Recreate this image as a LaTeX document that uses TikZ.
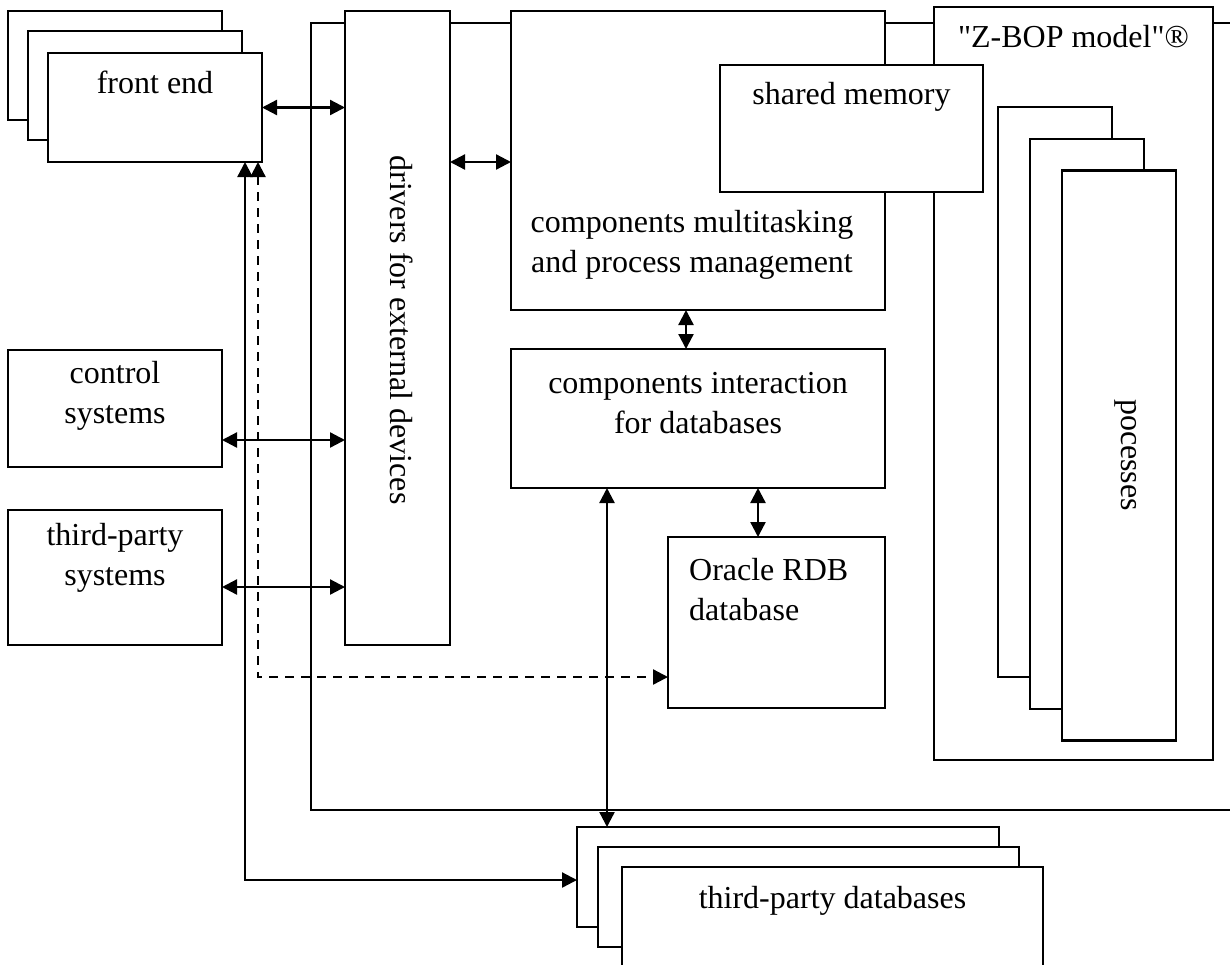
\documentclass[tikz,border=0pt]{standalone}
\usepackage{fontspec}
\setmainfont{Liberation Serif}[Ligatures=TeXOff]
\usetikzlibrary{arrows.meta}

\begin{document}
\begin{tikzpicture}[x=1pt,y=-1pt,>={Triangle[length=15pt,width=15pt]},line width=2.3pt,
    box/.style={draw,fill=white,inner sep=0pt,outer sep=0pt},
    txt/.style={font=\fontsize{32}{40}\selectfont,inner sep=0pt,anchor=base}]

            \useasboundingbox (0,0) rectangle (1230,964);

            % system frame and its blocks
            \node[box, minimum width=929pt, minimum height=787pt] (sys) at (775.5,416.5) {};
            \node[box, minimum width=279pt, minimum height=753pt] (zbop) at (1073.5,383.5) {};
            \node[box, minimum width=374pt, minimum height=299pt] (mt) at (698,160.5) {};
            \node[box, minimum width=263pt, minimum height=127pt] (shm) at (851.5,128.5) {};
            \node[box, minimum width=114pt, minimum height=570pt] (prc1) at (1055,392) {};
            \node[box, minimum width=114pt, minimum height=570pt] (prc2) at (1087,424) {};
            \node[box, minimum width=114pt, minimum height=570pt] (prc) at (1119,455.5) {};
            \node[box, minimum width=105pt, minimum height=634pt] (drv) at (397.5,328) {};
            \node[box, minimum width=374pt, minimum height=139pt] (cid) at (698,418.5) {};
            \node[box, minimum width=217pt, minimum height=171pt] (ora) at (776.5,622.5) {};

            % outside
            \node[box, minimum width=214pt, minimum height=109pt] (fe3) at (115,65.5) {};
            \node[box, minimum width=214pt, minimum height=109pt] (fe2) at (135,85.5) {};
            \node[box, minimum width=214pt, minimum height=109pt] (fe) at (155,107.5) {};
            \node[box, minimum width=214pt, minimum height=117pt] (ctl) at (115,408.5) {};
            \node[box, minimum width=214pt, minimum height=135pt] (tps) at (115,577.5) {};
            \node[box, minimum width=422pt, minimum height=100pt] (tdb3) at (788,877) {};
            \node[box, minimum width=421pt, minimum height=100pt] (tdb2) at (808.5,897) {};
            \node[box, minimum width=421pt, minimum height=123pt] (tdb) at (832.5,928.5) {};

            % texts (multi-line ones sit on their last line)
            \node[txt] (fe-t) at (155,93) {front end};
            \node[txt] (zbop-t) at (1073.5,47) {"Z-BOP model"®};
            \node[txt] (shm-t) at (851.5,104) {shared memory};
            \node[txt, align=center] (mt-t) at (692,272) {components multitasking\\and process management};
            \node[txt, align=center] (cid-t) at (698,433) {components interaction\\for databases};
            \node[txt, align=left, anchor=base west] (ora-t) at (688,620) {Oracle RDB\\database};
            \node[txt, align=center] (ctl-t) at (115,423) {control\\systems};
            \node[txt, align=center] (tps-t) at (115,585) {third-party\\systems};
            \node[txt] (tdb-t) at (832.5,908) {third-party databases};
            \node[txt, anchor=center, rotate=-90] (drv-t) at (402,330) {drivers for external devices};
            \node[txt, anchor=center, rotate=-90] (prc-t) at (1126,455) {pocesses};

            % links
            \draw[<->] (fe.east) -- (fe.east -| drv.west);
            \draw[<->] (drv.east |- 0,162) -- (mt.west |- 0,162);
            \draw[<->] (mt.south -| 686,0) -- (cid.north -| 686,0);
            \draw[<->] (cid.south -| 758,0) -- (ora.north -| 758,0);
            \draw[<->] (ctl.east |- 0,440) -- (drv.west |- 0,440);
            \draw[<->] (tps.east |- 0,587) -- (drv.west |- 0,587);
            \draw[<->] (cid.south -| 607,0) -- (tdb3.north -| 607,0);

            \coordinate (c1) at (245,880);
            \coordinate (c2) at (258,677);
            \draw[<->] (fe.south -| c1) -- (c1) -- (tdb3.west |- c1);
            \draw[<->, dash pattern=on 9pt off 7pt] (fe.south -| c2) -- (c2) -- (ora.west |- c2);

        \end{tikzpicture}
\end{document}
